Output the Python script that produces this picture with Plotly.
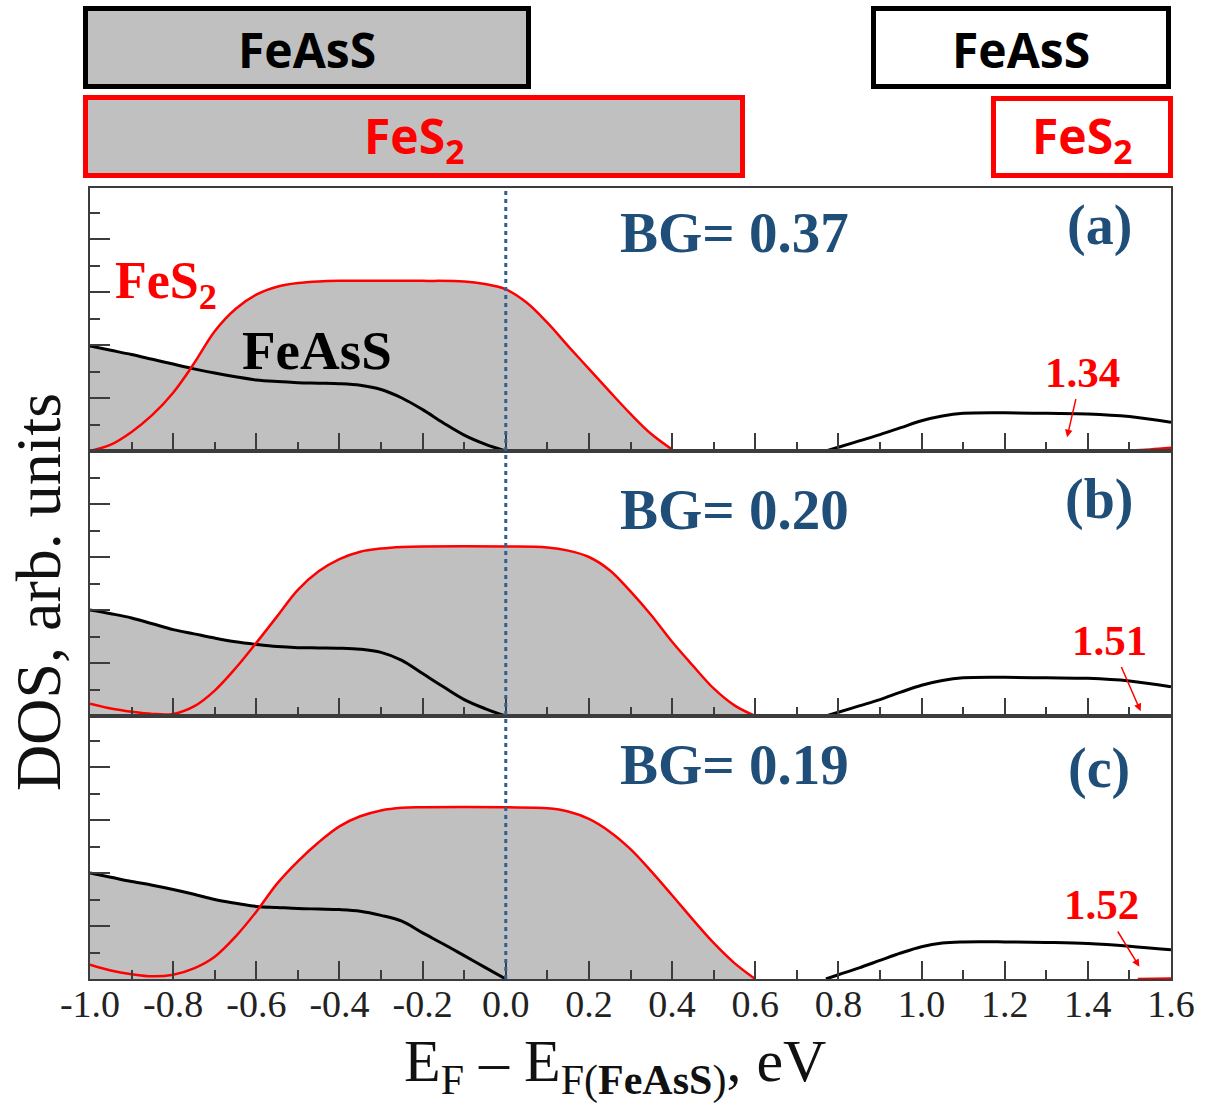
import plotly.graph_objects as go

# ---------------- data ----------------
VB_X = [-1.0, -0.95, -0.9, -0.85, -0.8, -0.75, -0.7, -0.65, -0.6, -0.55, -0.5,
        -0.45, -0.4, -0.35, -0.3, -0.25, -0.2, -0.15, -0.1, -0.05, 0.0]
CB_BLACK_X = [0.77, 0.8, 0.85, 0.9, 0.95, 1.0, 1.05, 1.1, 1.2, 1.3, 1.4, 1.5, 1.6]

# panel (a)
A_RED_X = [-1.0, -0.95, -0.9, -0.85, -0.8, -0.75, -0.7, -0.65, -0.6, -0.55, -0.5, -0.45,
           -0.4, -0.3, -0.2, -0.1, -0.05, 0.0, 0.05, 0.1, 0.15, 0.2, 0.25, 0.3, 0.35, 0.4]
A_RED_Y = [0.0, 0.12, 0.36, 0.68, 1.1, 1.65, 2.26, 2.68, 2.95, 3.1, 3.17, 3.2,
           3.21, 3.21, 3.21, 3.2, 3.15, 3.05, 2.8, 2.42, 1.98, 1.55, 1.12, 0.7, 0.32, 0.03]
A_BLACK_VB = [1.98, 1.9, 1.82, 1.73, 1.64, 1.55, 1.47, 1.4, 1.34, 1.31, 1.29,
              1.28, 1.27, 1.24, 1.16, 1.0, 0.78, 0.53, 0.3, 0.13, 0.0]
A_BLACK_CB = [0.0, 0.07, 0.19, 0.31, 0.44, 0.57, 0.66, 0.71, 0.72, 0.71, 0.70, 0.65, 0.54]
A_RED_CB_X = [1.34, 1.4, 1.5, 1.55, 1.6]
A_RED_CB_Y = [0.0, 0.005, 0.015, 0.03, 0.06]

# panel (b)
B_RED_X = [-1.0, -0.95, -0.9, -0.85, -0.8, -0.75, -0.7, -0.65, -0.6, -0.55, -0.5, -0.45,
           -0.4, -0.35, -0.3, -0.25, -0.2, 0.0, 0.1, 0.15, 0.2, 0.25, 0.3, 0.35, 0.4,
           0.45, 0.5, 0.55, 0.6]
B_RED_Y = [0.23, 0.14, 0.08, 0.04, 0.04, 0.18, 0.48, 0.9, 1.38, 1.88, 2.38, 2.73,
           2.96, 3.1, 3.16, 3.19, 3.2, 3.2, 3.18, 3.12, 3.0, 2.75, 2.35, 1.9, 1.4,
           0.95, 0.52, 0.2, 0.0]
B_BLACK_VB = [2.0, 1.93, 1.85, 1.74, 1.63, 1.55, 1.47, 1.4, 1.35, 1.31, 1.29,
              1.285, 1.28, 1.26, 1.2, 1.05, 0.8, 0.55, 0.31, 0.14, 0.0]
B_BLACK_CB = [0.0, 0.07, 0.19, 0.31, 0.45, 0.58, 0.67, 0.72, 0.73, 0.72, 0.71, 0.66, 0.55]
B_RED_CB_X = [1.51, 1.55, 1.6]
B_RED_CB_Y = [0.0, 0.005, 0.01]

# panel (c)
C_RED_X = [-1.0, -0.95, -0.9, -0.85, -0.8, -0.75, -0.7, -0.65, -0.6, -0.55, -0.5, -0.45,
           -0.4, -0.35, -0.3, -0.25, -0.2, 0.0, 0.1, 0.15, 0.2, 0.25, 0.3, 0.35, 0.4,
           0.45, 0.5, 0.55, 0.6]
C_RED_Y = [0.27, 0.16, 0.09, 0.05, 0.08, 0.2, 0.42, 0.8, 1.27, 1.8, 2.22, 2.58,
           2.88, 3.07, 3.18, 3.23, 3.24, 3.24, 3.22, 3.16, 3.02, 2.78, 2.45, 2.03, 1.58,
           1.12, 0.68, 0.3, 0.0]
C_BLACK_VB = [2.0, 1.92, 1.84, 1.77, 1.69, 1.6, 1.5, 1.43, 1.37, 1.35, 1.33,
              1.32, 1.31, 1.28, 1.2, 1.09, 0.87, 0.66, 0.44, 0.22, 0.0]
C_BLACK_CB = [0.0, 0.08, 0.21, 0.35, 0.49, 0.61, 0.68, 0.70, 0.70, 0.69, 0.67, 0.62, 0.55]
C_RED_CB_X = [1.52, 1.56, 1.6]
C_RED_CB_Y = [0.0, 0.005, 0.01]

PANEL_LABELS = ["(a)", "(b)", "(c)"]
BAND_GAPS = ["0.37", "0.20", "0.19"]
CBM_FES2 = ["1.34", "1.51", "1.52"]

X_TICK_VALS = [-1.0, -0.8, -0.6, -0.4, -0.2, 0.0, 0.2, 0.4, 0.6, 0.8, 1.0, 1.2, 1.4, 1.6]
X_TICK_TEXT = ["-1.0", "-0.8", "-0.6", "-0.4", "-0.2", "0.0", "0.2", "0.4", "0.6",
               "0.8", "1.0", "1.2", "1.4", "1.6"]

# ---------------- layout geometry ----------------
W, H = 1213, 1111
PL, PR, PT, PB = 90, 1171, 188, 979
BOUNDS = [188, 451, 716, 979]


def pxx(px):
    return (px - PL) / (PR - PL)


def pxy(py):
    return (PB - py) / (PB - PT)


RED = "#ff0000"
BLACK = "#000000"
GREY = "#c0c0c0"
BLUE = "#1f4e79"
AXC = "#3c3c3c"
SERIF = "Liberation Serif"

panels = [
    (A_RED_X, A_RED_Y, A_BLACK_VB, A_BLACK_CB, A_RED_CB_X, A_RED_CB_Y),
    (B_RED_X, B_RED_Y, B_BLACK_VB, B_BLACK_CB, B_RED_CB_X, B_RED_CB_Y),
    (C_RED_X, C_RED_Y, C_BLACK_VB, C_BLACK_CB, C_RED_CB_X, C_RED_CB_Y),
]

fig = go.Figure()
for i, (rx, ry, bvb, bcb, rcx, rcy) in enumerate(panels):
    xa = "x" if i == 0 else f"x{i+1}"
    ya = "y" if i == 0 else f"y{i+1}"
    common = dict(xaxis=xa, yaxis=ya, showlegend=False, hoverinfo="skip")
    # grey fill (union of areas under both valence curves)
    fig.add_trace(go.Scatter(x=VB_X, y=bvb, mode="lines", line=dict(width=0, shape="spline"),
                             fill="tozeroy", fillcolor=GREY, **common))
    fig.add_trace(go.Scatter(x=rx, y=ry, mode="lines", line=dict(width=0, shape="spline"),
                             fill="tozeroy", fillcolor=GREY, **common))
    # curves
    fig.add_trace(go.Scatter(x=VB_X, y=bvb, mode="lines",
                             line=dict(color=BLACK, width=3, shape="spline"), **common))
    fig.add_trace(go.Scatter(x=CB_BLACK_X, y=bcb, mode="lines",
                             line=dict(color=BLACK, width=3, shape="spline"), **common))
    fig.add_trace(go.Scatter(x=rx, y=ry, mode="lines",
                             line=dict(color=RED, width=2.5, shape="spline"), **common))
    fig.add_trace(go.Scatter(x=rcx, y=rcy, mode="lines",
                             line=dict(color=RED, width=2.5, shape="spline"), **common))

# axes
for i in range(3):
    top, bot = BOUNDS[i], BOUNDS[i + 1]
    xkey = "xaxis" if i == 0 else f"xaxis{i+1}"
    ykey = "yaxis" if i == 0 else f"yaxis{i+1}"
    ya = "y" if i == 0 else f"y{i+1}"
    xa = "x" if i == 0 else f"x{i+1}"
    fig.layout[xkey] = dict(
        domain=[0, 1], anchor=ya, range=[-1.0, 1.6],
        tickmode="array", tickvals=X_TICK_VALS, ticktext=X_TICK_TEXT,
        showticklabels=(i == 2), ticks="inside", ticklen=18, tickwidth=2, tickcolor=AXC,
        ticklabelstandoff=-10,
        minor=dict(tickmode="linear", tick0=-1.0, dtick=0.1, ticks="inside",
                   ticklen=9, tickwidth=2, tickcolor=AXC),
        showline=True, mirror=True, linecolor=AXC, linewidth=2,
        showgrid=False, zeroline=False,
        tickfont=dict(family=SERIF, size=38, color="#222222"),
    )
    fig.layout[ykey] = dict(
        domain=[pxy(bot), pxy(top)], anchor=xa, range=[0, (bot - top) / 53.0],
        tickmode="linear", tick0=0, dtick=1, ticks="inside", ticklen=20, tickwidth=2,
        tickcolor=AXC, showticklabels=False,
        minor=dict(tickmode="linear", tick0=0.5, dtick=1, ticks="inside",
                   ticklen=10, tickwidth=2, tickcolor=AXC),
        showline=True, mirror=True, linecolor=AXC, linewidth=2,
        showgrid=False, zeroline=False,
    )

annotations = []
# panel texts
BG_Y = [4.13, 3.89, 4.04]
LAB_Y = [4.26, 4.08, 3.98]
ARROW_HEAD = [(1.35, 0.26), (1.527, 0.09), (1.524, 0.23)]
ARROW_OFF = [(15, -65), (-31, -71), (-38, -62)]
for i in range(3):
    xa = "x" if i == 0 else f"x{i+1}"
    ya = "y" if i == 0 else f"y{i+1}"
    annotations.append(dict(xref=xa, yref=ya, x=0.55, y=BG_Y[i], showarrow=False,
                            xanchor="center", yanchor="middle",
                            text=f"<b>BG= {BAND_GAPS[i]}</b>",
                            font=dict(family=SERIF, size=57, color=BLUE)))
    annotations.append(dict(xref=xa, yref=ya, x=1.428, y=LAB_Y[i], showarrow=False,
                            xanchor="center", yanchor="middle",
                            text=f"<b>{PANEL_LABELS[i]}</b>",
                            font=dict(family=SERIF, size=56, color=BLUE)))
    hx, hy = ARROW_HEAD[i]
    ax, ay = ARROW_OFF[i]
    annotations.append(dict(xref=xa, yref=ya, x=hx, y=hy, ax=ax, ay=ay,
                            text=f"<b>{CBM_FES2[i]}</b>", showarrow=True,
                            arrowhead=2, arrowsize=1, arrowwidth=1.5, arrowcolor=RED,
                            standoff=0, startstandoff=2,
                            font=dict(family=SERIF, size=43, color=RED)))

annotations.append(dict(xref="x", yref="y", x=-0.945, y=3.15, xanchor="left",
                        yanchor="middle", showarrow=False,
                        text="<b>FeS<sub>2</sub></b>",
                        font=dict(family=SERIF, size=52, color=RED)))
annotations.append(dict(xref="x", yref="y", x=-0.64, y=1.9, xanchor="left",
                        yanchor="middle", showarrow=False,
                        text="<b>FeAsS</b>",
                        font=dict(family=SERIF, size=55, color=BLACK)))

# axis titles
annotations.append(dict(xref="paper", yref="paper", x=pxx(38), y=pxy(592), showarrow=False,
                        xanchor="center", yanchor="middle",
                        textangle=-90, text="DOS, arb. units",
                        font=dict(family=SERIF, size=64, color="#111111")))
annotations.append(dict(xref="paper", yref="paper", x=pxx(615), y=pxy(1066), showarrow=False,
                        xanchor="center", yanchor="middle",
                        text="E<sub>F</sub> – E<sub>F(<b>FeAsS</b>)</sub>, eV",
                        font=dict(family=SERIF, size=60, color="#111111")))

# top band boxes
BOXES = [
    # (x0, x1, y0, y1, border colour, fill, text, text colour)
    (85.5, 528.5, 8.5, 86.5, BLACK, GREY, "FeAsS", BLACK),
    (85.5, 742.5, 97.5, 175.5, RED, GREY, "FeS<sub>2</sub>", RED),
    (873.5, 1168.5, 8.5, 86.5, BLACK, "white", "FeAsS", BLACK),
    (993.5, 1170.5, 98.5, 175.5, RED, "white", "FeS<sub>2</sub>", RED),
]
shapes = []
for x0, x1, y0, y1, lc, fc, txt, tc in BOXES:
    shapes.append(dict(type="rect", xref="paper", yref="paper",
                       x0=pxx(x0), x1=pxx(x1), y0=pxy(y1), y1=pxy(y0),
                       line=dict(color=lc, width=5), fillcolor=fc, layer="below"))
    annotations.append(dict(xref="paper", yref="paper", x=pxx((x0 + x1) / 2),
                            y=pxy((y0 + y1) / 2 + 2), showarrow=False,
                            xanchor="center", yanchor="middle",
                            text=f"<b>{txt}</b>",
                            font=dict(family="Open Sans", size=48, color=tc)))

# dotted Fermi level line
shapes.append(dict(type="line", xref="x", yref="paper", x0=0, x1=0, y0=0, y1=1,
                   line=dict(color="#2e6193", width=3, dash="4px,4px"), layer="above"))

fig.update_layout(
    width=W, height=H,
    margin=dict(l=PL, r=W - PR, t=PT, b=H - PB),
    plot_bgcolor="white", paper_bgcolor="white",
    shapes=shapes, annotations=annotations,
    showlegend=False,
)

fig.write_html("out.html")
